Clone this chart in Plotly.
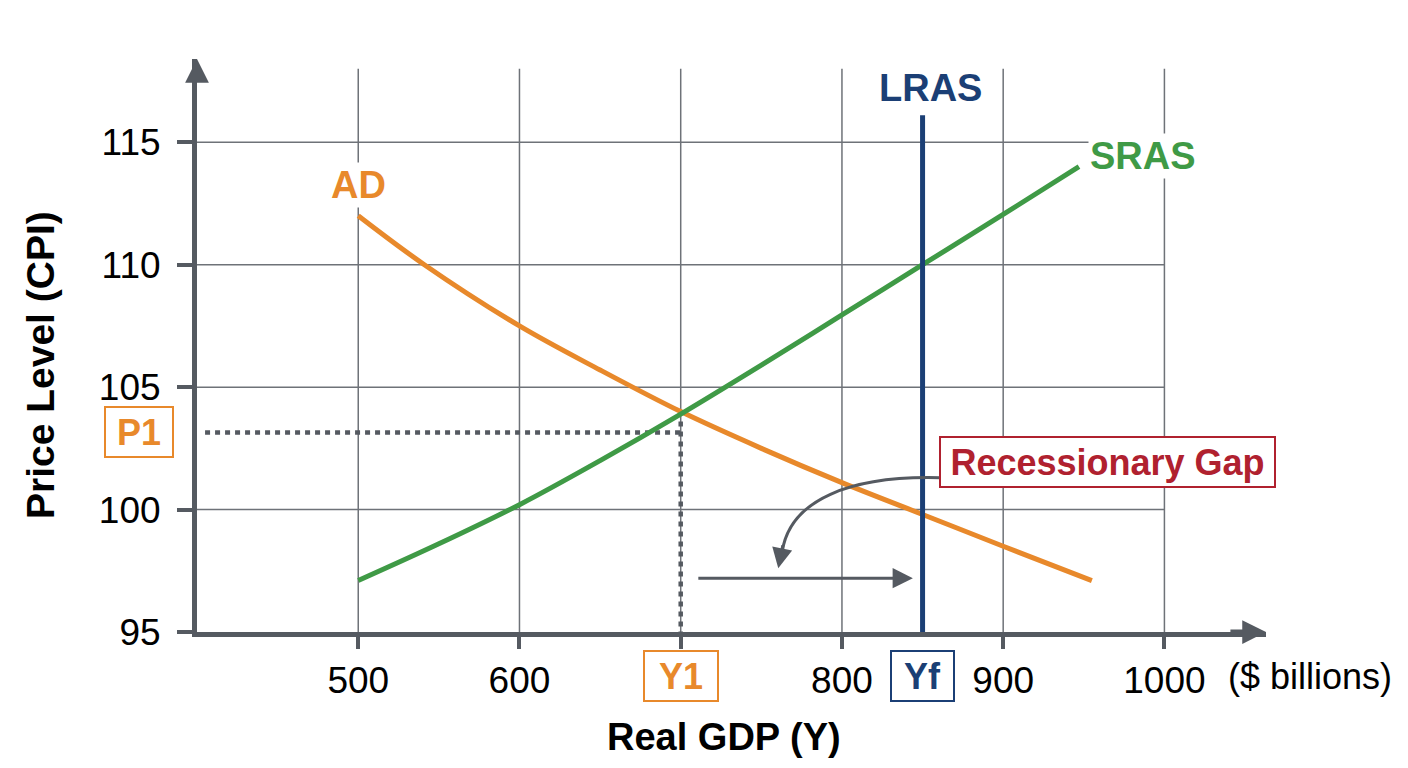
import plotly.graph_objects as go

# axis ticks / grid
X_TICKS = [500, 600, 700, 800, 900, 1000]
X_TICK_TEXT = ["500", "600", "", "800", "900", "1000"]
Y_TICKS = [95, 100, 105, 110, 115]
GRID_X = [500, 600, 700, 800, 900, 1000]
GRID_Y = [100, 105, 110, 115]

# curves
AD_X = [500, 541, 600, 650, 700, 750, 800, 850, 900, 955]
AD_Y = [112.0, 110.0, 107.5, 105.7, 104.0, 102.5, 101.1, 99.8, 98.5, 97.1]
SRAS_X = [500, 550, 600, 650, 700, 750, 800, 850, 900, 947]
SRAS_Y = [97.1, 98.6, 100.2, 102.0, 103.9, 105.9, 107.95, 110.0, 112.05, 114.0]
LRAS_X = [850, 850]
LRAS_Y = [95, 116.1]

P1 = 103.15
Y1 = 700
YF = 850

# gap arrows
SHIFT_ARROW = [710, 844, 97.2]          # x from, x to, y
GAP_CURVE = [(861, 101.3), (805, 101.4), (768, 100.4), (763, 98.3)]
GAP_HEAD = [(763.5, 98.6), (760.5, 97.6)]

FONT = "Liberation Sans, Arial, Helvetica, sans-serif"
GRAY = "#555a61"
GRID = "#6e7278"
ORANGE = "#e8892b"
GREEN = "#3f9a46"
NAVY = "#1b3f75"
RED = "#b0212f"

fig = go.Figure()

# grid lines
for gx in GRID_X:
    fig.add_shape(type="line", x0=gx, x1=gx, y0=95, y1=118, xref="x", yref="y",
                  line=dict(color=GRID, width=1.5), layer="below")
for gy in GRID_Y:
    fig.add_shape(type="line", x0=400, x1=1000, y0=gy, y1=gy, xref="x", yref="y",
                  line=dict(color=GRID, width=1.5), layer="below")

# dotted guides
fig.add_trace(go.Scatter(x=[405, Y1], y=[P1, P1], mode="lines",
                         line=dict(color=GRAY, width=4.5, dash="5px,5px"), hoverinfo="skip"))
fig.add_trace(go.Scatter(x=[Y1, Y1], y=[103.6, 95], mode="lines",
                         line=dict(color=GRAY, width=4.5, dash="5px,5px"), hoverinfo="skip"))

# curves
fig.add_trace(go.Scatter(x=AD_X, y=AD_Y, mode="lines", name="AD",
                         line=dict(color=ORANGE, width=5, shape="spline")))
fig.add_trace(go.Scatter(x=SRAS_X, y=SRAS_Y, mode="lines", name="SRAS",
                         line=dict(color=GREEN, width=5, shape="spline")))
fig.add_trace(go.Scatter(x=LRAS_X, y=LRAS_Y, mode="lines", name="LRAS",
                         line=dict(color=NAVY, width=5)))

# curved arrow from the label
(sx, sy), (c1x, c1y), (c2x, c2y), (ex, ey) = GAP_CURVE
fig.add_shape(type="path", xref="x", yref="y",
              path=f"M {sx},{sy} C {c1x},{c1y} {c2x},{c2y} {ex},{ey}",
              line=dict(color=GRAY, width=3))

annotations = []


def arrow(x, y, ax, ay, width, size):
    annotations.append(dict(x=x, y=y, ax=ax, ay=ay, xref="x", yref="y", axref="x", ayref="y",
                            text="", showarrow=True, arrowhead=2, arrowwidth=width,
                            arrowsize=size, arrowcolor=GRAY))


# axis arrowheads
arrow(1063, 95, 1040, 95, 5, 0.95)
arrow(400, 118.4, 400, 117.5, 5, 0.95)
# shift arrow + head of curved arrow
arrow(SHIFT_ARROW[1], SHIFT_ARROW[2], SHIFT_ARROW[0], SHIFT_ARROW[2], 3, 1.35)
arrow(GAP_HEAD[1][0], GAP_HEAD[1][1], GAP_HEAD[0][0], GAP_HEAD[0][1], 3, 1.35)


def label(text, x, y, color, size=38, bold=True, **kw):
    t = f"<b>{text}</b>" if bold else text
    annotations.append(dict(x=x, y=y, xref=kw.pop("xref", "x"), yref="y", text=t,
                            showarrow=False,
                            font=dict(family=FONT, size=size, color=color), **kw))


label("AD", 500, 113.25, ORANGE, bgcolor="white")
label("SRAS", 987, 114.45, GREEN, bgcolor="white")
label("LRAS", 855, 117.2, NAVY)
label("Recessionary Gap", 965, 101.95, RED, size=36, bgcolor="white",
      bordercolor=RED, borderwidth=2, borderpad=0, width=333, height=48)
label("P1", 0, P1, ORANGE, size=36, xref="paper", xanchor="center", xshift=-58,
      bgcolor="white", bordercolor=ORANGE, borderwidth=2, borderpad=0, width=66, height=48)
label("Y1", Y1, 95, ORANGE, size=36, bgcolor="white", yshift=-44,
      bordercolor=ORANGE, borderwidth=2, borderpad=0, width=72, height=48)
label("Yf", YF, 95, NAVY, size=36, bgcolor="white", yshift=-44,
      bordercolor=NAVY, borderwidth=2, borderpad=0, width=61, height=48)
label("($ billions)", 1000, 95, "black", size=36, bold=False, yshift=-44,
      xanchor="left", xshift=62)
label("Real GDP (Y)", 727, 95, "black", size=38, yshift=-105)
label("Price Level (CPI)", 400, 95 + (632 - 365) / 24.49, "black", size=39,
      textangle=-90, xshift=40 - 197)

# page body has an 8px margin, so the figure is 8px smaller and margins shifted
fig.update_layout(
    width=1400, height=760,
    margin=dict(l=189, r=142, t=51, b=136),
    plot_bgcolor="white", paper_bgcolor="white",
    showlegend=False,
    annotations=annotations,
    font=dict(family=FONT, size=37, color="black"),
)
fig.update_xaxes(range=[400, 1063], showgrid=False, zeroline=False,
                 showline=True, linewidth=5, linecolor=GRAY,
                 tickvals=X_TICKS, ticktext=X_TICK_TEXT, ticks="outside",
                 ticklen=12, tickwidth=4, tickcolor=GRAY, ticklabelstandoff=0,
                 tickfont=dict(family=FONT, size=37, color="black"))
fig.update_yaxes(range=[95, 118.4], showgrid=False, zeroline=False,
                 showline=True, linewidth=5, linecolor=GRAY,
                 tickvals=Y_TICKS, ticks="outside",
                 ticklen=15, tickwidth=4, tickcolor=GRAY, ticklabelstandoff=9,
                 tickfont=dict(family=FONT, size=37, color="black"))

fig.write_html("out.html")
